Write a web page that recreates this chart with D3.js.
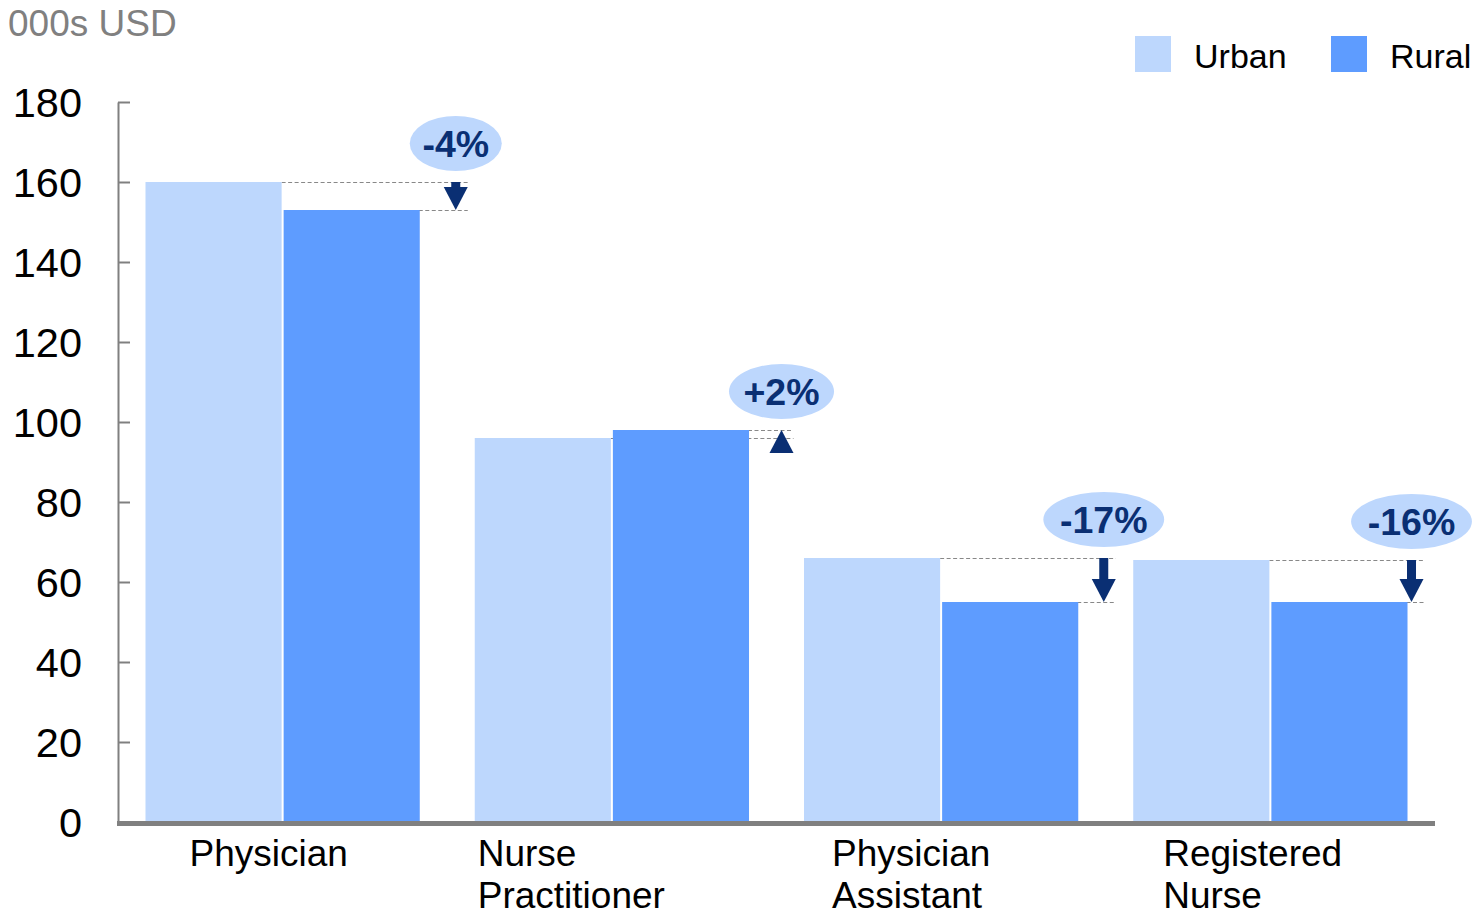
<!DOCTYPE html>
<html>
<head>
<meta charset="utf-8">
<script src="https://cdn.jsdelivr.net/npm/d3@7"></script>
<style>
  html, body { margin: 0; padding: 0; background: #fff; }
  svg { display: block; font-family: "Liberation Sans", Arial, sans-serif; }
</style>
</head>
<body>
<svg id="chart" width="1474" height="916"></svg>
<script>
// Average salary by role, thousands of USD
const categories = ["Physician", "Nurse Practitioner", "Physician Assistant", "Registered Nurse"];
const seriesNames = ["Urban", "Rural"];
const urbanValues = [160, 96, 66, 65.5];
const ruralValues = [153, 98, 55, 55];
const yTicks = [0, 20, 40, 60, 80, 100, 120, 140, 160, 180];
const unitLabel = "000s USD";

// layout
const plot = { left: 118, right: 1435, top: 102, bottom: 822 };
const colors = { Urban: "#bdd7fd", Rural: "#5e9cff" };
const navy = "#0a2f73";
const axisGray = "#808080";
const annotShift = [36, 32.5, 25.5, 4];     // horizontal shift of each change marker past the rural bar
const labelShift = [44, 3, 28, 30];         // left edge of each category label inside its band

const svg = d3.select("#chart");

const y = d3.scaleLinear().domain([0, 180]).range([plot.bottom, plot.top]);
const x = d3.scaleBand().domain(categories)
  .range([plot.left, plot.right])
  .paddingInner(0.167).paddingOuter(0.0835);
const sub = d3.scaleBand().domain(seriesNames)
  .range([0, x.bandwidth()])
  .paddingInner(2 / 138);

const rows = categories.map((c, i) => ({
  cat: c, i, Urban: urbanValues[i], Rural: ruralValues[i],
  change: ruralValues[i] / urbanValues[i] - 1
}));
const fmtChange = v => (v > 0 ? "+" : "-") + Math.round(Math.abs(v) * 100) + "%";
const markerX = d => x(d.cat) + sub("Rural") + sub.bandwidth() + annotShift[d.i];

// dashed guide lines at each bar top, drawn beneath the bars
const guides = svg.append("g").attr("stroke", "#888").attr("stroke-width", 1)
  .attr("stroke-dasharray", "4,2.5");
rows.forEach(d => {
  guides.append("line")
    .attr("x1", x(d.cat) + sub("Urban") + sub.bandwidth()).attr("x2", markerX(d) + 12)
    .attr("y1", y(d.Urban) + 0.5).attr("y2", y(d.Urban) + 0.5);
  guides.append("line")
    .attr("x1", x(d.cat) + sub("Rural") + sub.bandwidth() - 1).attr("x2", markerX(d) + 12)
    .attr("y1", y(d.Rural) + 0.5).attr("y2", y(d.Rural) + 0.5);
});

// bars
svg.append("g").selectAll("g").data(rows).join("g")
  .attr("transform", d => `translate(${x(d.cat)},0)`)
  .selectAll("rect")
  .data(d => seriesNames.map(s => ({ s, v: d[s] })))
  .join("rect")
  .attr("x", d => sub(d.s))
  .attr("width", sub.bandwidth())
  .attr("y", d => y(d.v))
  .attr("height", d => y(0) - y(d.v))
  .attr("fill", d => colors[d.s]);

// y axis
const yAxis = svg.append("g")
  .attr("transform", `translate(${plot.left},0)`)
  .call(d3.axisLeft(y).tickValues(yTicks).tickSize(-12).tickSizeOuter(0).tickPadding(36));
yAxis.select(".domain").attr("stroke", axisGray).attr("stroke-width", 2);
yAxis.selectAll(".tick line").attr("stroke", axisGray).attr("stroke-width", 2);
yAxis.selectAll(".tick text")
  .attr("font-size", 41.5).attr("fill", "#000").attr("dy", "0.36em")
  .attr("font-family", "'Liberation Sans', Arial, sans-serif");

// x axis baseline
svg.append("line")
  .attr("x1", plot.left - 1).attr("x2", plot.right)
  .attr("y1", y(0) + 1.5).attr("y2", y(0) + 1.5)
  .attr("stroke", axisGray).attr("stroke-width", 5);

// category labels
const catLabels = svg.append("g").attr("font-size", 37).attr("fill", "#000");
rows.forEach(d => {
  const t = catLabels.append("text")
    .attr("x", x(d.cat) + labelShift[d.i]).attr("y", 866);
  d.cat.split(" ").forEach((w, k) => {
    t.append("tspan").attr("x", x(d.cat) + labelShift[d.i]).attr("dy", k ? 42 : 0).text(w);
  });
});

// change markers: arrow from urban level to rural level plus a bubble label
const markers = svg.append("g");
rows.forEach(d => {
  const ax = markerX(d);
  const y0 = y(d.Urban), y1 = y(d.Rural);
  const dir = y1 > y0 ? 1 : -1;        // 1 = pointing down
  const headLen = 23, headHalf = 12, shaftHalf = 4.5;
  const base = y1 - dir * headLen;
  const g = markers.append("g").attr("fill", navy);
  if ((base - y0) * dir > 0) {
    g.append("rect")
      .attr("x", ax - shaftHalf).attr("width", shaftHalf * 2)
      .attr("y", Math.min(y0, base)).attr("height", Math.abs(base - y0));
  }
  g.append("path")
    .attr("d", `M${ax - headHalf},${base}L${ax + headHalf},${base}L${ax},${y1}Z`);

  const top = Math.min(y0, y1);
  const cy = top - 11 - 27.5;
  const label = fmtChange(d.change);
  const bubble = markers.append("g");
  const el = bubble.append("ellipse").attr("cx", ax).attr("cy", cy).attr("ry", 27.5)
    .attr("fill", colors.Urban);
  const txt = bubble.append("text")
    .attr("x", ax).attr("y", cy + 13.5)
    .attr("text-anchor", "middle")
    .attr("font-size", 37.5).attr("font-weight", "bold").attr("fill", navy)
    .text(label);
  const tw = txt.node().getComputedTextLength();
  el.attr("rx", tw / 2 * 1.38);
});

// unit label
svg.append("text").attr("x", 8).attr("y", 36)
  .attr("font-size", 37).attr("fill", axisGray).text(unitLabel);

// legend
const legendX = [1135, 1331];
const legend = svg.append("g");
seriesNames.forEach((s, k) => {
  legend.append("rect").attr("x", legendX[k]).attr("y", 36)
    .attr("width", 36).attr("height", 36).attr("fill", colors[s]);
  legend.append("text").attr("x", legendX[k] + 59).attr("y", 68)
    .attr("font-size", 34).attr("fill", "#000").text(s);
});
</script>
</body>
</html>
